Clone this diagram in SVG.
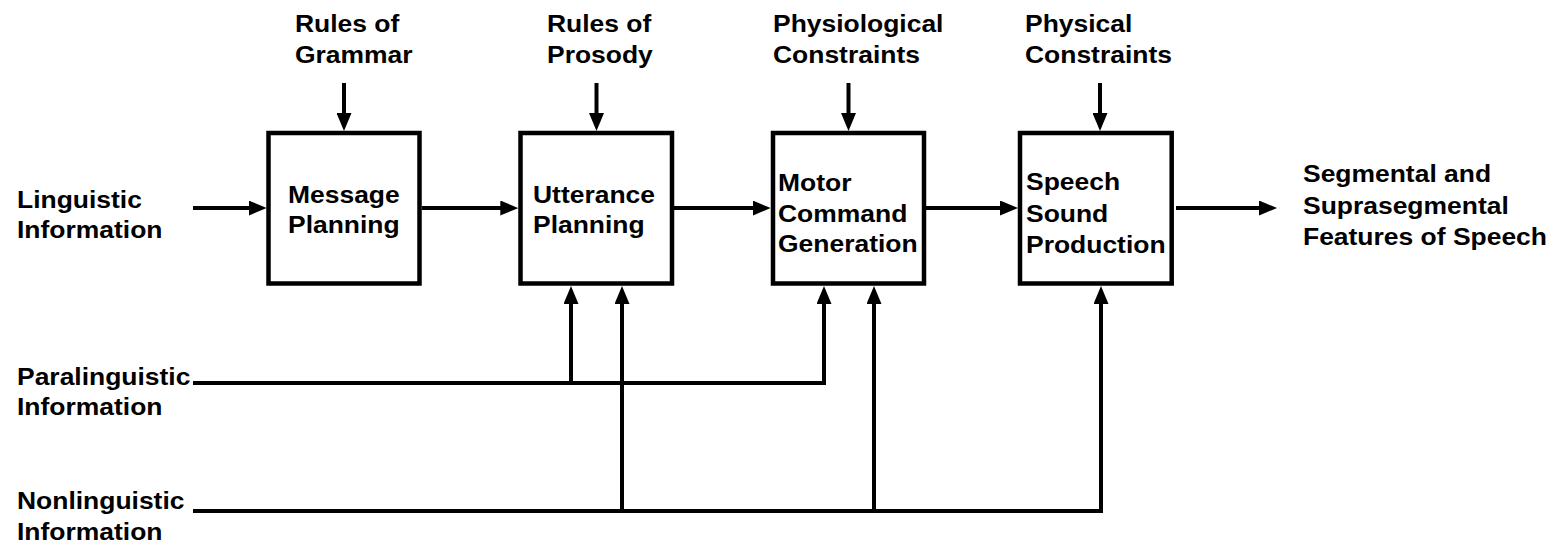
<svg xmlns="http://www.w3.org/2000/svg" width="1558" height="545" viewBox="0 0 1558 545">
<style>
.t{font-family:"Liberation Sans",Arial,Helvetica,sans-serif;font-weight:bold;font-size:24.5px;fill:#000}
.box{fill:#fff;stroke:#000;stroke-width:4.5}
.c{fill:none;stroke:#000;stroke-width:4}
</style>
<defs>
<marker id="ah" markerUnits="userSpaceOnUse" markerWidth="18" markerHeight="15" refX="8" refY="7.5" orient="auto" viewBox="0 0 18 15">
<path d="M0,0 L18,7.5 L0,15 z" fill="#000"/>
</marker>
</defs>
<rect width="1558" height="545" fill="#fff"/>

<g id="connectors">
<path class="c" d="M193,208 H256.7" marker-end="url(#ah)"/>
<path class="c" d="M421.7,208 H508.3" marker-end="url(#ah)"/>
<path class="c" d="M674,208 H760.7" marker-end="url(#ah)"/>
<path class="c" d="M926,208 H1008" marker-end="url(#ah)"/>
<path class="c" d="M1176,208 H1267" marker-end="url(#ah)"/>
<path class="c" d="M344,83 V121" marker-end="url(#ah)"/>
<path class="c" d="M596.5,83 V121" marker-end="url(#ah)"/>
<path class="c" d="M848.5,83 V121" marker-end="url(#ah)"/>
<path class="c" d="M1100,83 V121" marker-end="url(#ah)"/>
<path class="c" d="M193,383 H824 V296" marker-end="url(#ah)"/>
<path class="c" d="M571,383 V296" marker-end="url(#ah)"/>
<path class="c" d="M193,511 H1101 V296" marker-end="url(#ah)"/>
<path class="c" d="M622,511 V296" marker-end="url(#ah)"/>
<path class="c" d="M874,511 V296" marker-end="url(#ah)"/>
</g>

<g id="message-planning">
<rect class="box" x="268.5" y="133" width="151" height="150.5"/>
<text class="t" transform="translate(288,203) scale(1.08,1)"><tspan x="0" y="0">Message</tspan><tspan x="0" y="30">Planning</tspan></text>
</g>
<g id="utterance-planning">
<rect class="box" x="520.5" y="133" width="151.5" height="150.5"/>
<text class="t" transform="translate(533,203) scale(1.08,1)"><tspan x="0" y="0">Utterance</tspan><tspan x="0" y="30">Planning</tspan></text>
</g>
<g id="motor-command-generation">
<rect class="box" x="773" y="133" width="151" height="150.5"/>
<text class="t" transform="translate(778,191) scale(1.08,1)"><tspan x="0" y="0">Motor</tspan><tspan x="0" y="31">Command</tspan><tspan x="0" y="61.5">Generation</tspan></text>
</g>
<g id="speech-sound-production">
<rect class="box" x="1020" y="133" width="151.7" height="150.5"/>
<text class="t" transform="translate(1026,190) scale(1.08,1)"><tspan x="0" y="0">Speech</tspan><tspan x="0" y="32">Sound</tspan><tspan x="0" y="63">Production</tspan></text>
</g>

<g id="rules-of-grammar">
<text class="t" transform="translate(295,32) scale(1.08,1)"><tspan x="0" y="0">Rules of</tspan><tspan x="0" y="31">Grammar</tspan></text>
</g>
<g id="rules-of-prosody">
<text class="t" transform="translate(547,32) scale(1.08,1)"><tspan x="0" y="0">Rules of</tspan><tspan x="0" y="31">Prosody</tspan></text>
</g>
<g id="physiological-constraints">
<text class="t" transform="translate(773,32) scale(1.08,1)"><tspan x="0" y="0">Physiological</tspan><tspan x="0" y="31">Constraints</tspan></text>
</g>
<g id="physical-constraints">
<text class="t" transform="translate(1025,32) scale(1.08,1)"><tspan x="0" y="0">Physical</tspan><tspan x="0" y="31">Constraints</tspan></text>
</g>

<g id="linguistic-information">
<text class="t" transform="translate(17,208) scale(1.08,1)"><tspan x="0" y="0">Linguistic</tspan><tspan x="0" y="30">Information</tspan></text>
</g>
<g id="paralinguistic-information">
<text class="t" transform="translate(17,385) scale(1.08,1)"><tspan x="0" y="0">Paralinguistic</tspan><tspan x="0" y="30">Information</tspan></text>
</g>
<g id="nonlinguistic-information">
<text class="t" transform="translate(17,509) scale(1.08,1)"><tspan x="0" y="0">Nonlinguistic</tspan><tspan x="0" y="31">Information</tspan></text>
</g>
<g id="output-features">
<text class="t" transform="translate(1303,182) scale(1.08,1)"><tspan x="0" y="0">Segmental and</tspan><tspan x="0" y="32">Suprasegmental</tspan><tspan x="0" y="63">Features of Speech</tspan></text>
</g>
</svg>
